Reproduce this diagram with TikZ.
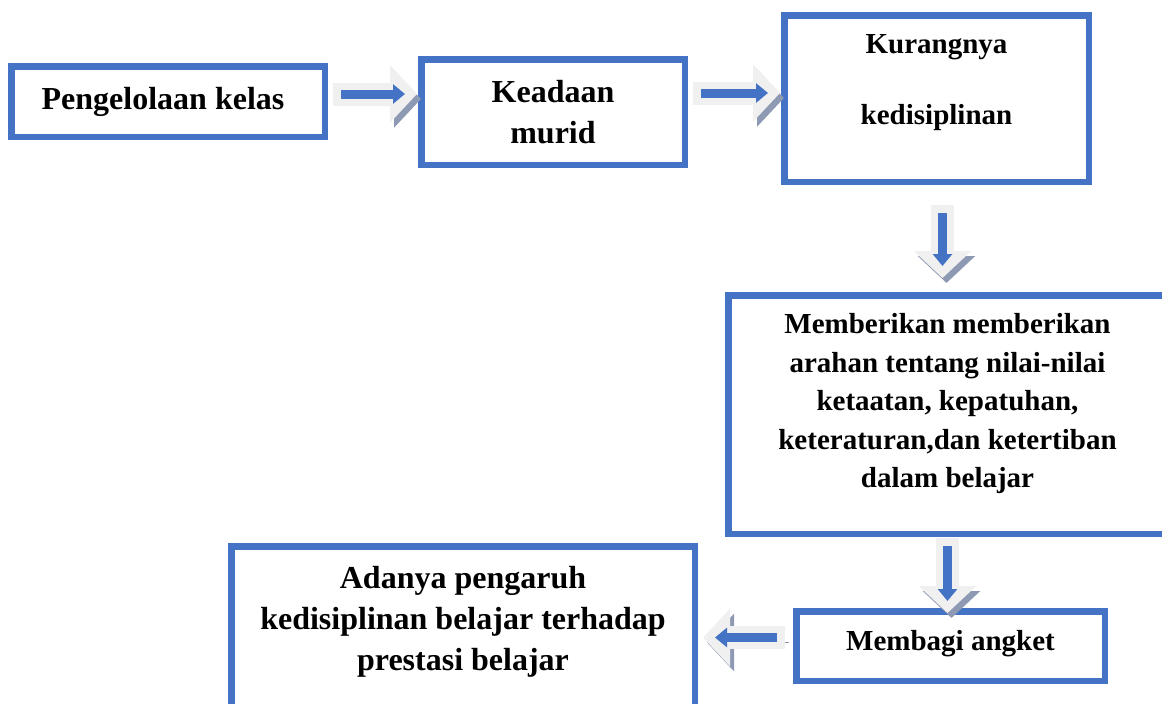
\documentclass[tikz,border=0pt]{standalone}
\usepackage{fontspec}
\setmainfont{Liberation Serif}
\usetikzlibrary{arrows.meta}
\definecolor{boxblue}{RGB}{68,114,196}
\definecolor{arrbody}{RGB}{240,240,240}
\definecolor{arrshade}{RGB}{142,154,179}
\tikzset{
  box/.style={draw=boxblue, line width=6.5pt, fill=white, inner sep=0pt},
  txt/.style={align=center, font=\fontsize{29}{38.5}\selectfont\bfseries},
  bigtxt/.style={align=center, font=\fontsize{32}{41}\selectfont\bfseries},
  blockarr/.style={line width=23pt, draw=arrbody,
    -{Triangle[width=56pt,length=27pt]},
    preaction={draw=arrshade, transform canvas={shift={(4pt,-5pt)}}},
    postaction={draw=boxblue, line width=9pt,
      -{Triangle[width=19pt,length=12pt]},
      shorten <=8pt, shorten >=12pt}}
}
\begin{document}
\begin{tikzpicture}[x=1pt, y=-1pt]
  \useasboundingbox (0,0) rectangle (1162,704);

  % boxes
  \node[box, minimum width=313.5pt, minimum height=70.5pt] (kelas) at (168,101.5) {};
  \node[box, minimum width=263.5pt, minimum height=105.5pt] (keadaan) at (553,112) {};
  \node[box, minimum width=304.5pt, minimum height=166.5pt] (kurang) at (936.5,98.5) {};
  \node[box, minimum width=438.5pt, minimum height=238.5pt] (arahan) at (947.5,414.5) {};
  \node[box, minimum width=308.5pt, minimum height=69.5pt] (angket) at (950.5,646) {};
  \node[box, minimum width=463.5pt, minimum height=170.5pt] (pengaruh) at (463,631.5) {};

  % texts
  \node[bigtxt] (kelas-t) at ([xshift=-5pt]kelas.center) {Pengelolaan kelas};
  \node[bigtxt] (keadaan-t) at (keadaan.center) {Keadaan\\murid};
  \node[txt] (kurang-t) at ([yshift=16pt]kurang.center)
    {Kurangnya\\[32.5pt]kedisiplinan};
  \node[txt] (arahan-t) at ([yshift=10.5pt]arahan.center)
    {Memberikan memberikan\\arahan tentang nilai-nilai\\ketaatan, kepatuhan,\\keteraturan,dan ketertiban\\dalam belajar};
  \node[txt] (angket-t) at ([yshift=2pt]angket.center) {Membagi angket};
  \node[bigtxt] (pengaruh-t) at ([yshift=9.5pt]pengaruh.center)
    {Adanya pengaruh\\kedisiplinan belajar terhadap\\prestasi belajar};

  % arrows
  \draw[blockarr] ([shift={(5,-7.5)}]kelas.east) -- ([shift={(-1,-18)}]keadaan.west);
  \draw[blockarr] ([shift={(5,-19)}]keadaan.east) -- ([shift={(-1,-5.5)}]kurang.west);
  \draw[blockarr] ([shift={(6,20)}]kurang.south) -- ([shift={(-5,-14)}]arahan.north);
  \draw[blockarr] ([shift={(0,1)}]arahan.south) -- ([shift={(-3,5)}]angket.north);
  \draw[blockarr] ([shift={(-8,-8.5)}]angket.west) -- ([shift={(5,6)}]pengaruh.east);
\end{tikzpicture}
\end{document}
